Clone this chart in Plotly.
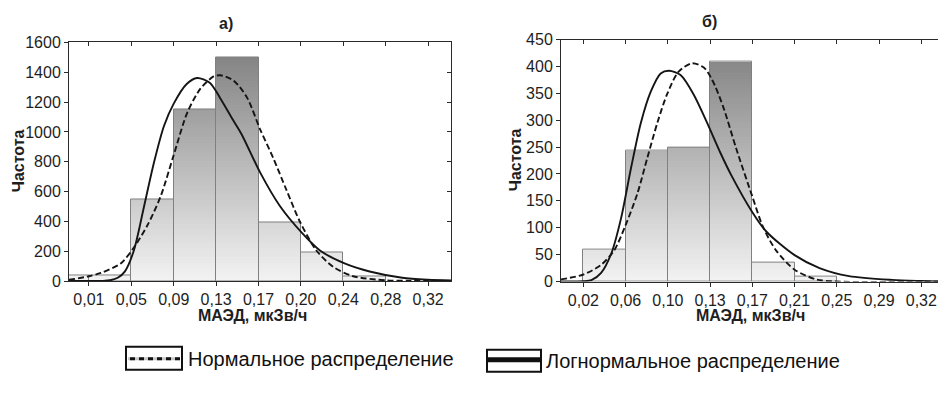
import plotly.graph_objects as go

# ---------------- data ----------------
left_ticks = ["0,01", "0,05", "0,09", "0,13", "0,17", "0,20", "0,24", "0,28", "0,32"]
right_ticks = ["0,02", "0,06", "0,10", "0,13", "0,17", "0,21", "0,25", "0,29", "0,32"]

# histogram bins given as index of the left tick edge
left_bins = [-1, 0, 1, 2, 3, 4, 5, 6]
left_counts = [38, 38, 550, 1150, 1500, 395, 190, 32]
right_bins = [0, 1, 2, 3, 4, 5]
right_counts = [59, 243, 250, 409, 36, 9]

# fitted curves (x in tick-index units)
left_logn_x = [-0.47, 0.0, 0.3, 0.5, 0.68, 0.85, 1.06, 1.3, 1.53, 1.77, 2.0, 2.3, 2.55, 2.85, 3.1, 3.4, 3.6,
               4.04, 4.5, 5.03, 5.45, 6.03, 6.62, 7.39, 8.0, 8.54]
left_logn_y = [0, 0, 1, 5, 22, 65, 205, 500, 790, 1040, 1190, 1320, 1362, 1330, 1225, 1080, 985,
               727, 505, 321, 205, 118, 64, 22, 9, 4]
left_norm_x = [-0.47, 0.0, 0.28, 0.75, 1.06, 1.38, 1.69, 2.0, 2.32, 2.63, 2.94, 3.1, 3.41, 3.73, 4.04, 4.35,
               4.66, 4.98, 5.37, 5.76, 6.23, 7.01, 7.6, 8.54]
left_norm_y = [8, 32, 54, 118, 225, 374, 567, 845, 1130, 1290, 1372, 1380, 1345, 1230, 1016, 823,
               610, 396, 203, 96, 32, 5, 1, 0]
right_logn_x = [-0.53, 0.0, 0.19, 0.42, 0.66, 0.89, 1.13, 1.36, 1.6, 1.83, 2.03, 2.3, 2.61, 2.93, 3.24, 3.5,
                4.0, 4.33, 5.0, 5.59, 6.29, 7.31, 8.0, 8.49]
right_logn_y = [0, 0.5, 2.5, 16, 52, 117, 212, 295, 354, 387, 392, 384, 348, 295, 240, 198,
                129, 93, 49, 25, 10, 3, 1, 0]
right_norm_x = [-0.53, 0.0, 0.42, 0.73, 1.0, 1.28, 1.51, 1.75, 1.98, 2.25, 2.57, 2.85, 3.05, 3.31, 3.62,
                4.0, 4.25, 4.56, 5.0, 5.51, 6.0, 8.49]
right_norm_y = [4, 13, 31, 58, 105, 164, 229, 295, 348, 390, 406, 398, 375, 325, 247,
                158, 102, 58, 22, 4, 0, 0]

titles = ["а)", "б)"]
y_title = "Частота"
x_title = "МАЭД, мкЗв/ч"
legend_labels = ["Нормальное распределение", "Логнормальное распределение"]

# ---------------- helpers ----------------
OFF = 8                      # page body margin that offsets the figure
W, H = 946 - OFF, 395 - OFF
FONT = "Liberation Sans, Arial, sans-serif"
TXT = "#1e1e1e"


def px(x):
    return (x - OFF) / W


def py(y):
    return 1 - (y - OFF) / H


def gradient_bars(bins, counts, ymax, xa, ya, n=80):
    xs, bases, ys, cols = [], [], [], []
    step = ymax / n
    for k in range(n):
        b0 = k * step
        g = int(round(243 - (243 - 125) * (b0 + step / 2) / ymax))
        for b, c in zip(bins, counts):
            if c > b0:
                xs.append(b + 0.5)
                bases.append(b0)
                ys.append(c - b0)
                cols.append(f"rgb({g},{g},{g})")
    return go.Bar(x=xs, y=ys, base=bases, width=1, xaxis=xa, yaxis=ya,
                  marker=dict(color=cols, line=dict(width=0)),
                  showlegend=False, hoverinfo="skip")


def outline_bars(bins, counts, xa, ya):
    return go.Bar(x=[b + 0.5 for b in bins], y=counts, width=1, xaxis=xa, yaxis=ya,
                  marker=dict(color="rgba(0,0,0,0)", line=dict(color="#808080", width=1)),
                  showlegend=False, hoverinfo="skip")


def curve(x, y, xa, ya, dash):
    return go.Scatter(x=x, y=y, mode="lines", xaxis=xa, yaxis=ya,
                      line=dict(color="#151515", width=1.9, dash=dash, shape="spline", smoothing=0.8),
                      showlegend=False, hoverinfo="skip")


fig = go.Figure()
fig.add_trace(gradient_bars(left_bins, left_counts, 1600, "x", "y"))
fig.add_trace(outline_bars(left_bins, left_counts, "x", "y"))
fig.add_trace(curve(left_logn_x, left_logn_y, "x", "y", "solid"))
fig.add_trace(curve(left_norm_x, left_norm_y, "x", "y", "6px,3px"))

fig.add_trace(gradient_bars(right_bins, right_counts, 450, "x2", "y2"))
fig.add_trace(outline_bars(right_bins, right_counts, "x2", "y2"))
fig.add_trace(curve(right_logn_x, right_logn_y, "x2", "y2", "solid"))
fig.add_trace(curve(right_norm_x, right_norm_y, "x2", "y2", "6px,3px"))

# dummy traces for the mirrored inner-tick axes
fig.add_trace(go.Scatter(x=[None], y=[None], xaxis="x3", yaxis="y3", showlegend=False))
fig.add_trace(go.Scatter(x=[None], y=[None], xaxis="x4", yaxis="y4", showlegend=False))

ax_common = dict(showgrid=False, zeroline=False, showline=True, linecolor="#2a2a2a", linewidth=1,
                 ticks="outside", ticklen=4, tickcolor="#2a2a2a",
                 tickfont=dict(family=FONT, size=16, color=TXT), fixedrange=True)

lx = [px(69), px(451)]
ly = [py(285.2), py(35.7)]
rx = [px(561), px(942)]
ry = [py(285.7), py(32.7)]
lxr = [-0.47, 8.54]
rxr = [-0.53, 8.49]

inner = dict(showgrid=False, zeroline=False, showline=False, ticks="inside", ticklen=4,
             tickcolor="#2a2a2a", showticklabels=False, fixedrange=True)

fig.update_layout(
    width=W, height=H,
    margin=dict(l=0, r=0, t=0, b=0),
    paper_bgcolor="white", plot_bgcolor="white",
    barmode="overlay", bargap=0,
    showlegend=False,
    xaxis=dict(ax_common, domain=lx, range=lxr, tickvals=list(range(9)), ticktext=left_ticks,
               anchor="y", mirror=True),
    yaxis=dict(ax_common, domain=ly, range=[0, 1600], dtick=200, anchor="x", mirror=True),
    xaxis2=dict(ax_common, domain=rx, range=rxr, tickvals=list(range(9)), ticktext=right_ticks,
                anchor="y2", mirror=True),
    yaxis2=dict(ax_common, domain=ry, range=[0, 450], dtick=50, anchor="x2", mirror=True),
    xaxis3=dict(inner, overlaying="x", side="top", range=lxr, tickvals=list(range(9)), anchor="y"),
    yaxis3=dict(inner, overlaying="y", side="right", range=[0, 1600], dtick=200, anchor="x"),
    xaxis4=dict(inner, overlaying="x2", side="top", range=rxr, tickvals=list(range(9)), anchor="y2"),
    yaxis4=dict(inner, overlaying="y2", side="right", range=[0, 450], dtick=50, anchor="x2"),
)

ann = []
bold = dict(family=FONT, size=16, color=TXT)


def note(x, y, text, font, xanchor="center", angle=0):
    return dict(x=px(x), y=py(y), text=text, showarrow=False, xref="paper", yref="paper",
                xanchor=xanchor, yanchor="middle", font=font, textangle=angle)


# subplot titles
ann.append(note(226, 15.5, "<b>" + titles[0] + "</b>", bold))
ann.append(note(709, 13.5, "<b>" + titles[1] + "</b>", bold))
# axis titles
for xx, yy in [(18, 160), (515, 159)]:
    ann.append(note(xx, yy, "<b>" + y_title + "</b>", bold, angle=-90))
for xx in [253, 750]:
    ann.append(note(xx, 321, "<b>" + x_title + "</b>", bold))
# legend texts
lfont = dict(family=FONT, size=20, color="#111")
ann.append(note(186, 367, legend_labels[0], lfont, xanchor="left"))
ann.append(note(544, 369, legend_labels[1], lfont, xanchor="left"))
fig.update_layout(annotations=ann)

shapes = [
    # normal legend box
    dict(type="rect", xref="paper", yref="paper", x0=px(126), x1=px(182), y0=py(378), y1=py(354),
         line=dict(color="#111", width=2), fillcolor="white"),
    dict(type="line", xref="paper", yref="paper", x0=px(128), x1=px(180), y0=py(366.5), y1=py(366.5),
         line=dict(color="#c8c8c8", width=3)),
    dict(type="line", xref="paper", yref="paper", x0=px(130), x1=px(180), y0=py(366.5), y1=py(366.5),
         line=dict(color="#111", width=3, dash="5px,4px")),
    # lognormal legend box
    dict(type="rect", xref="paper", yref="paper", x0=px(487), x1=px(541), y0=py(380), y1=py(357),
         line=dict(color="#111", width=2), fillcolor="white"),
    dict(type="line", xref="paper", yref="paper", x0=px(488), x1=px(540), y0=py(367.5), y1=py(367.5),
         line=dict(color="#111", width=5)),
]
fig.update_layout(shapes=shapes)

fig.write_html("out.html")
